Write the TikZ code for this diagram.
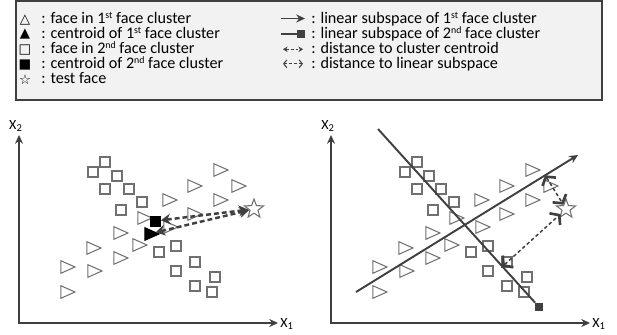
\documentclass[tikz,border=0pt]{standalone}
\usepackage{fontspec}
\setmainfont{Carlito}
\newfontfamily\symfont{DejaVu Sans}
\usetikzlibrary{arrows.meta,shapes.geometric,calc}
\definecolor{ink}{RGB}{64,64,64}
\definecolor{pale}{RGB}{112,112,112}
\definecolor{paper}{RGB}{242,242,242}
\newcommand\ordsup[1]{\raisebox{0.3em}{\fontsize{5.6}{6}\selectfont #1}}
\tikzset{
  >={Stealth[length=5pt,width=4.6pt]},
  face1/.style={isosceles triangle,isosceles triangle stretches,draw=pale,line width=0.6pt,
    inner sep=0pt,outer sep=0pt,minimum width=0.25cm,minimum height=0.28cm},
  face2/.style={rectangle,draw=pale,line width=0.6pt,inner sep=0pt,minimum size=0.2cm},
  cen1/.style={face1,fill=black,draw=black},
  cen2/.style={rectangle,fill=black,inner sep=0pt,minimum size=0.22cm},
  testface/.style={star,star points=5,star point ratio=2.4,draw=pale,fill=white,line width=0.6pt,
    inner sep=0pt,minimum size=0.4cm},
  axis/.style={<->,draw=ink,line width=0.75pt},
  axlabel/.style={font=\fontsize{8}{9}\selectfont,inner sep=0pt},
  leg/.style={font=\fontsize{9.2}{11}\selectfont,anchor=base west,inner sep=0pt},
  legsym/.style={font=\fontsize{7.6}{8}\symfont,inner sep=0pt},
  subspace/.style={draw=ink,line width=1.1pt},
  endsq/.style={fill=ink,inner sep=0pt,minimum size=0.16cm},
  centdist/.style={{Stealth[length=5.5pt,width=6.2pt]}-{Stealth[length=5.5pt,width=6.2pt]},
    draw=ink,line width=1.4pt,dash pattern=on 2.8pt off 1.7pt},
  subdist/.style={{Straight Barb[length=3.4pt,width=9pt,line width=1.5pt]}-{Straight Barb[length=3.4pt,width=9pt,line width=1.5pt]},
    draw=ink,line width=0.85pt,dash pattern=on 2pt off 1.4pt},
  legcent/.style={{Stealth[length=2.6pt,width=3.2pt]}-{Stealth[length=2.6pt,width=3.2pt]},
    draw=ink,line width=0.7pt,dash pattern=on 1.6pt off 1.2pt},
  legsub/.style={{Straight Barb[length=1.8pt,width=4.4pt,line width=0.6pt]}-{Straight Barb[length=1.8pt,width=4.4pt,line width=0.6pt]},
    draw=ink,line width=0.6pt,dash pattern=on 1.6pt off 1.2pt},
}

\begin{document}
\begin{tikzpicture}[x=0.02cm,y=-0.02cm]
  \useasboundingbox (0,0) rectangle (617,334);
  % legend
  \draw[draw=ink,fill=paper,line width=0.6pt] (16,1) rectangle (602,100);
  \node[legsym] (s1) at (25,20) {△};
  \node[legsym] (s2) at (25,34.5) {▲};
  \node[legsym] (s3) at (25,50) {□};
  \node[legsym] (s4) at (25,65) {■};
  \node[legsym] (s5) at (25,80) {☆};
  \node[leg] (t1) at (41,23.3) {: face in 1\ordsup{st} face cluster};
  \node[leg] (t2) at (41,38.3) {: centroid of 1\ordsup{st} face cluster};
  \node[leg] (t3) at (41,53.3) {: face in 2\ordsup{nd} face cluster};
  \node[leg] (t4) at (41,68.3) {: centroid of 2\ordsup{nd} face cluster};
  \node[leg] (t5) at (41,83.3) {: test face};
  \coordinate (a1) at (281,18.5); \coordinate (b1) at (305,18.5);
  \coordinate (a2) at (281,34.3); \node[endsq] (q2) at (301,34.3) {};
  \coordinate (a3) at (283,49.3); \coordinate (b3) at (303,49.3);
  \coordinate (a4) at (283,63.8); \coordinate (b4) at (303,63.8);
  \draw[subspace,->] (a1) -- (b1);
  \draw[subspace] (a2) -- (q2);
  \draw[legcent] (a3) -- (b3);
  \draw[legsub] (a4) -- (b4);
  \node[leg] (r1) at (311,23.3) {: linear subspace of 1\ordsup{st} face cluster};
  \node[leg] (r2) at (311,38.3) {: linear subspace of 2\ordsup{nd} face cluster};
  \node[leg] (r3) at (311,53.3) {: distance to cluster centroid};
  \node[leg] (r4) at (311,68.3) {: distance to linear subspace};
  % both plots
  \foreach \dx/\k in {0/1,312/2}{
    \begin{scope}[shift={(\dx,0)}]
      \coordinate (o\k) at (19,323);
      \coordinate (xe\k) at (278,323);
      \coordinate (ye\k) at (19,135);
      \draw[axis] (ye\k) -- (o\k) -- (xe\k);
      \node[axlabel] (lx2\k) at (16,126) {X\textsubscript{2}};
      \node[axlabel,anchor=west] (lx1\k) at (280,324) {X\textsubscript{1}};
      \foreach \p in {(218,170),(192,186),(236,186),(167,200),(218,200),(192,214),(142,218),
        (168,227),(118,233),(91,248),(137,245),(118,258),(65,267),(92,271),(65,292)}
        \node[face1] at \p {};
      \foreach \p in {(105,162),(93,172),(117,176),(105,189),(129,189),(142,202),(121,210),
        (176,246),(159,252),(195,262),(176,271),(215,277),(195,286),(212,292)}
        \node[face2] at \p {};
      \node[testface] (test\k) at (254,209) {};
    \end{scope}
  }
  % left: cluster centroids
  \node[cen2] (cen2) at (155,221) {};
  \node[cen1] (cen1) at (149,234) {};
  \draw[centdist] (cen2) -- (test1);
  \draw[centdist] (cen1) -- (test1);
  % right: linear subspaces
  \coordinate (sa1) at (356,292); \coordinate (sb1) at (578,155);
  \coordinate (sa2) at (378,129); \node[endsq] (sq2) at (539,307) {};
  \draw[subspace,->] (sa1) -- (sb1);
  \draw[subspace] (sa2) -- (sq2);
  \coordinate (p1) at ($(sa1)!(test2)!(sb1)$);
  \coordinate (p2) at ($(sa2)!(test2)!(sq2)$);
  \draw[subdist] (p1) -- (test2);
  \draw[subdist] (p2) -- (test2);
\end{tikzpicture}
\end{document}
